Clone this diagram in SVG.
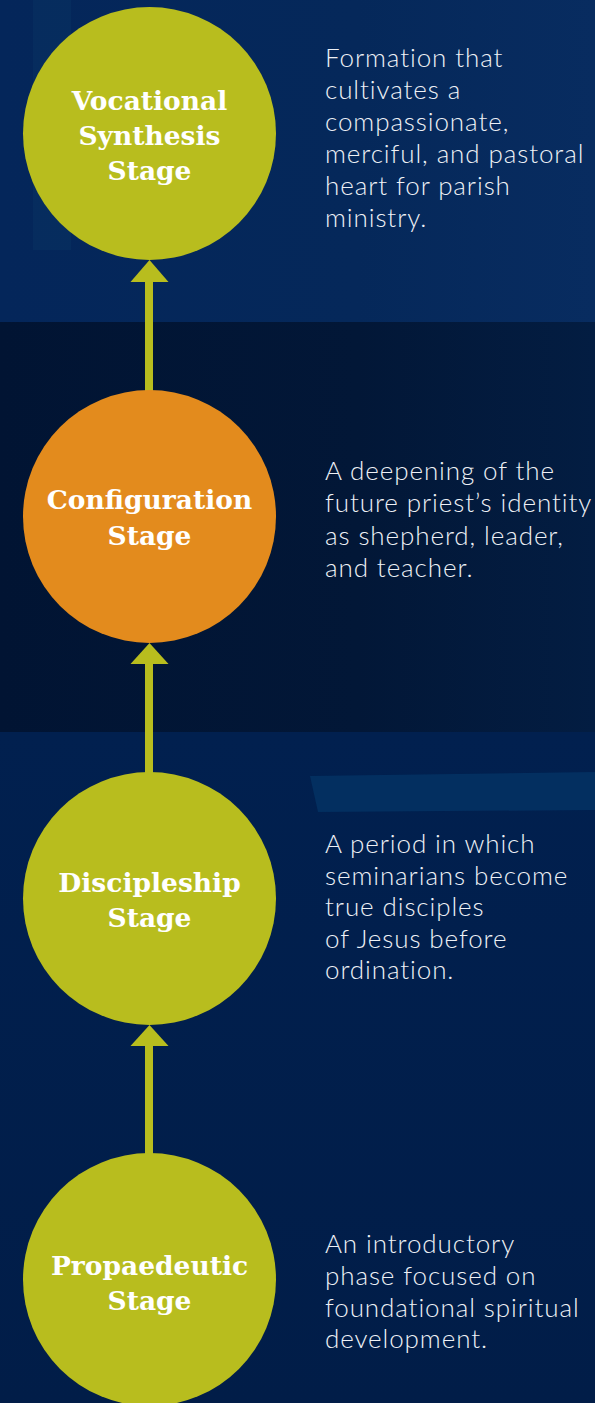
<svg xmlns="http://www.w3.org/2000/svg" width="595" height="1403" viewBox="0 0 595 1403">
<style>
.stage{fill:#b8bd1e}
.stage.cur{fill:#e38b1d}
.title{font-family:"DejaVu Serif",serif;font-weight:bold;font-size:26.5px;fill:#ffffff;text-anchor:middle}
.desc{font-family:Lato,"Liberation Sans",sans-serif;font-weight:300;font-size:26px;letter-spacing:0.9px;fill:#eef1f6}
.arrow{fill:#b8bd1e}
</style>
<defs>
<linearGradient id="bgTop" x1="0" y1="0" x2="1" y2="0">
<stop offset="0" stop-color="#04265a"/>
<stop offset="0.6" stop-color="#05285a"/>
<stop offset="1" stop-color="#082c60"/>
</linearGradient>
<linearGradient id="bgMid" x1="0" y1="0" x2="1" y2="0">
<stop offset="0" stop-color="#011433"/>
<stop offset="0.6" stop-color="#021737"/>
<stop offset="1" stop-color="#031d42"/>
</linearGradient>
<linearGradient id="bgBot" x1="0" y1="0" x2="0" y2="1">
<stop offset="0" stop-color="#01204f"/>
<stop offset="1" stop-color="#011d48"/>
</linearGradient>
</defs>
<g id="background">
<rect x="0" y="0" width="595" height="322" fill="url(#bgTop)"/>
<rect x="33" y="0" width="38" height="250" fill="#0b3868" opacity="0.35"/>
<rect x="0" y="322" width="595" height="410" fill="url(#bgMid)"/>
<rect x="0" y="732" width="595" height="671" fill="url(#bgBot)"/>
<polygon points="310,776 595,772 595,810 318,812" fill="#063d70" opacity="0.55"/>
</g>
<g id="connectors">
<g id="arrow1"><rect class="arrow" x="145" y="280" width="8" height="112"/><polygon class="arrow" points="149.5,260 168.5,282 130.5,282"/></g>
<g id="arrow2"><rect class="arrow" x="145" y="662" width="8" height="112"/><polygon class="arrow" points="149.5,643 168.5,664 130.5,664"/></g>
<g id="arrow3"><rect class="arrow" x="145" y="1044" width="8" height="112"/><polygon class="arrow" points="149.5,1025 168.5,1046 130.5,1046"/></g>
</g>
<g id="node-vocational">
<circle class="stage" cx="149.5" cy="133.5" r="126.5"/>
<text class="title" x="149.5" y="110">Vocational</text>
<text class="title" x="149.5" y="145">Synthesis</text>
<text class="title" x="149.5" y="180">Stage</text>
<text class="desc"><tspan x="325" y="67">Formation that</tspan><tspan x="325" y="99">cultivates a</tspan><tspan x="325" y="131">compassionate,</tspan><tspan x="325" y="163">merciful, and pastoral</tspan><tspan x="325" y="195">heart for parish</tspan><tspan x="325" y="227">ministry.</tspan></text>
</g>
<g id="node-configuration">
<circle class="stage cur" cx="149.5" cy="516.5" r="126.5"/>
<text class="title" x="149.5" y="509">Configuration</text>
<text class="title" x="149.5" y="545">Stage</text>
<text class="desc"><tspan x="325" y="480">A deepening of the</tspan><tspan x="325" y="512">future priest’s identity</tspan><tspan x="325" y="545">as shepherd, leader,</tspan><tspan x="325" y="577">and teacher.</tspan></text>
</g>
<g id="node-discipleship">
<circle class="stage" cx="149.5" cy="898.5" r="126.5"/>
<text class="title" x="149.5" y="892">Discipleship</text>
<text class="title" x="149.5" y="927">Stage</text>
<text class="desc"><tspan x="325" y="853">A period in which</tspan><tspan x="325" y="884.5">seminarians become</tspan><tspan x="325" y="916">true disciples</tspan><tspan x="325" y="947.5">of Jesus before</tspan><tspan x="325" y="979">ordination.</tspan></text>
</g>
<g id="node-propaedeutic">
<circle class="stage" cx="149.5" cy="1279.5" r="126.5"/>
<text class="title" x="149.5" y="1275">Propaedeutic</text>
<text class="title" x="149.5" y="1310">Stage</text>
<text class="desc"><tspan x="325" y="1253">An introductory</tspan><tspan x="325" y="1285">phase focused on</tspan><tspan x="325" y="1317">foundational spiritual</tspan><tspan x="325" y="1348">development.</tspan></text>
</g>
</svg>
